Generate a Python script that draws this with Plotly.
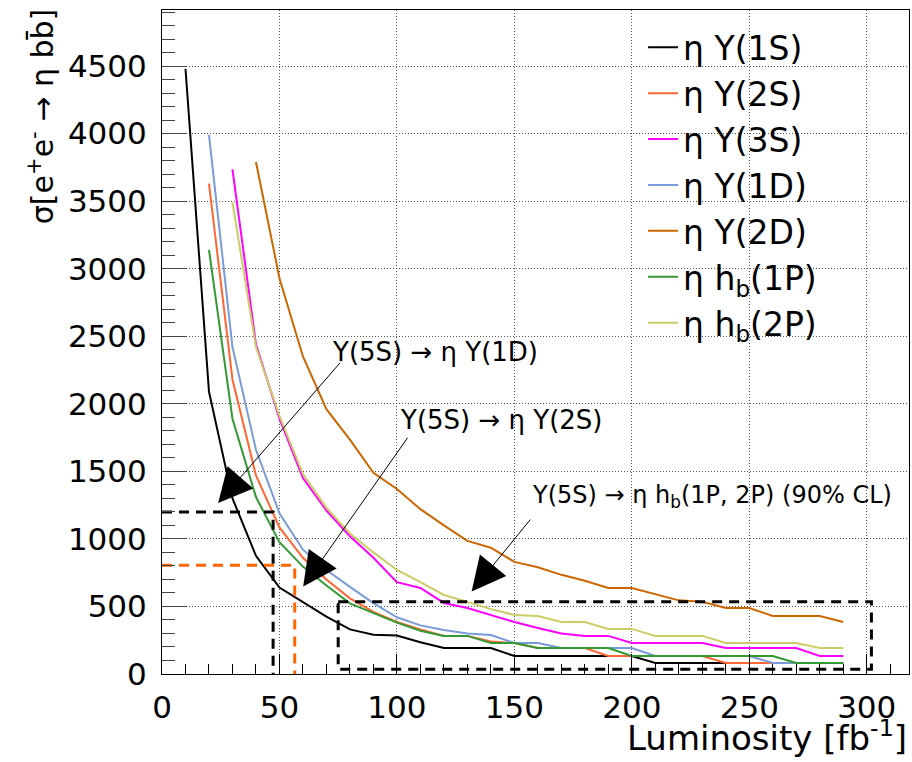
import plotly.graph_objects as go

FONT = "DejaVu Sans"

# ---------------- data ----------------
x_1S = [10, 20, 30, 40, 50, 60, 70, 80, 90, 100, 110, 120, 130, 140, 150,
        160, 170, 180, 190, 200, 210, 220, 230, 240, 250, 260, 270, 280, 290]
y_1S = [4480, 2090, 1300, 875, 640, 530, 425, 330, 290, 285, 235, 193, 193, 193, 133,
        133, 133, 133, 133, 133, 82, 82, 82, 82, 82, 82, 82, 82, 82]

x_from20 = [20, 30, 40, 50, 60, 70, 80, 90, 100, 110, 120, 130, 140, 150,
            160, 170, 180, 190, 200, 210, 220, 230, 240, 250, 260, 270, 280, 290]
y_2S = [3630, 2180, 1470, 1085, 860, 700, 560, 460, 385, 330, 282, 282, 240, 230,
        193, 193, 193, 133, 133, 133, 133, 133, 82, 82, 82, 82, 82, 82]
y_1D = [3990, 2420, 1660, 1190, 920, 770, 645, 525, 420, 360, 325, 300, 289, 230,
        230, 193, 193, 193, 193, 133, 133, 133, 133, 133, 82, 82, 82, 82]
y_1P = [3140, 1890, 1310, 975, 795, 655, 523, 450, 380, 320, 282, 282, 230, 230,
        193, 193, 193, 193, 133, 133, 133, 133, 133, 133, 133, 82, 82, 82]

x_from30 = [30, 40, 50, 60, 70, 80, 90, 100, 110, 120, 130, 140, 150,
            160, 170, 180, 190, 200, 210, 220, 230, 240, 250, 260, 270, 280, 290]
y_3S = [3735, 2440, 1890, 1450, 1210, 1020, 860, 680, 637, 526, 489, 437, 385,
        341, 300, 282, 282, 230, 230, 230, 230, 193, 193, 193, 193, 133, 133]
y_2P = [3490, 2420, 1910, 1480, 1230, 1040, 900, 770, 680, 585, 534, 480, 437,
        430, 385, 385, 334, 334, 282, 282, 282, 230, 230, 230, 230, 193, 193]

x_from40 = [40, 50, 60, 70, 80, 90, 100, 110, 120, 130, 140, 150,
            160, 170, 180, 190, 200, 210, 220, 230, 240, 250, 260, 270, 280, 290]
y_2D = [3790, 2930, 2350, 1960, 1735, 1490, 1370, 1220, 1100, 985, 935, 830,
        790, 734, 690, 637, 637, 590, 545, 534, 489, 489, 430, 430, 430, 385]

series_names = ["η Υ(1S)", "η Υ(2S)", "η Υ(3S)", "η Υ(1D)", "η Υ(2D)",
                "η h<sub>b</sub>(1P)", "η h<sub>b</sub>(2P)"]
series_x = [x_1S, x_from20, x_from30, x_from20, x_from40, x_from20, x_from30]
series_y = [y_1S, y_2S, y_3S, y_1D, y_2D, y_1P, y_2P]
series_colors = ["#000000", "#ff6633", "#ff00ff", "#7a9ad8", "#cc6600", "#339933", "#cccc66"]

# measured limits (dashed guides)
lim_1D_lumi, lim_1D_sigma = 47.3, 1200
lim_2S_lumi, lim_2S_sigma = 56.5, 805
box_hb_lumi = [75, 302]
box_hb_sigma = [35, 535]

# arrows and their labels
arrow_tail_x = [76.4, 105.0, 157.3]
arrow_tail_y = [2315, 1760, 1154]
arrow_tip_x = [23.9, 60.1, 131.8]
arrow_tip_y = [1265, 647, 610]
label_texts = ["Υ(5S) → η Υ(1D)", "Υ(5S) → η Υ(2S)",
               "Υ(5S) → η h<sub>b</sub>(1P, 2P) (90% CL)"]
label_x = [71.4, 100.4, 156.6]
label_y = [2387, 1883, 1312]
label_sizes = [26, 26, 24]

x_ticks = [0, 50, 100, 150, 200, 250, 300]
y_ticks = [0, 500, 1000, 1500, 2000, 2500, 3000, 3500, 4000, 4500]

# ---------------- figure ----------------
fig = go.Figure()

for name, xs, ys, col in zip(series_names, series_x, series_y, series_colors):
    fig.add_trace(go.Scatter(x=xs, y=ys, mode="lines", name=name,
                             line=dict(color=col, width=2)))

dash_pat = "10px,7px"
fig.add_trace(go.Scatter(x=[0, lim_1D_lumi, lim_1D_lumi], y=[lim_1D_sigma, lim_1D_sigma, 0],
                         mode="lines", showlegend=False, hoverinfo="skip",
                         line=dict(color="black", width=3, dash=dash_pat)))
fig.add_trace(go.Scatter(x=[0, lim_2S_lumi, lim_2S_lumi], y=[lim_2S_sigma, lim_2S_sigma, 0],
                         mode="lines", showlegend=False, hoverinfo="skip",
                         line=dict(color="#ff6600", width=3, dash=dash_pat)))
fig.add_trace(go.Scatter(x=[box_hb_lumi[0], box_hb_lumi[1], box_hb_lumi[1], box_hb_lumi[0], box_hb_lumi[0]],
                         y=[box_hb_sigma[1], box_hb_sigma[1], box_hb_sigma[0], box_hb_sigma[0], box_hb_sigma[1]],
                         mode="lines", showlegend=False, hoverinfo="skip",
                         line=dict(color="black", width=3, dash=dash_pat)))

annotations = []
for tx, ty, hx, hy in zip(arrow_tail_x, arrow_tail_y, arrow_tip_x, arrow_tip_y):
    annotations.append(dict(x=hx, y=hy, ax=tx, ay=ty, xref="x", yref="y", axref="x", ayref="y",
                            text="", showarrow=True, arrowhead=2, arrowsize=6.8, arrowwidth=1,
                            arrowcolor="black", standoff=0))
for t, lx, ly, fs in zip(label_texts, label_x, label_y, label_sizes):
    annotations.append(dict(x=lx, y=ly, xref="x", yref="y", text=t, showarrow=False,
                            xanchor="left", yanchor="middle",
                            font=dict(family=FONT, size=fs, color="black")))

# axis titles (ROOT style: aligned to the axis ends)
annotations.append(dict(x=1.0, y=-0.094, xref="paper", yref="paper",
                        text="Luminosity [fb<sup>-1</sup>]", showarrow=False,
                        xanchor="right", yanchor="middle",
                        font=dict(family=FONT, size=34, color="black")))
annotations.append(dict(x=-0.162, y=1.005, xref="paper", yref="paper",
                        text="σ[e<sup>+</sup>e<sup>-</sup> → η bb\u0304]", showarrow=False,
                        textangle=-90, xanchor="center", yanchor="top",
                        font=dict(family=FONT, size=30, color="black")))

fig.update_layout(
    width=912, height=762,
    margin=dict(l=162, r=3, t=10, b=88),
    paper_bgcolor="white", plot_bgcolor="white",
    font=dict(family=FONT, color="black"),
    showlegend=True,
    legend=dict(x=0.644, y=0.986, xanchor="left", yanchor="top",
                font=dict(family=FONT, size=33, color="black"),
                bgcolor="rgba(0,0,0,0)", borderwidth=0),
    annotations=annotations,
    xaxis=dict(range=[0, 318], tickmode="array", tickvals=x_ticks,
               ticks="inside", ticklen=20, tickcolor="black", tickwidth=1,
               minor=dict(tick0=0, dtick=10, ticks="inside", ticklen=10, tickcolor="black"),
               showgrid=True, gridcolor="#555555", griddash="1px,2px", gridwidth=1,
               showline=True, linecolor="black", linewidth=1, mirror=True,
               zeroline=False, tickfont=dict(family=FONT, size=31, color="black"),
               ticklabelstandoff=6),
    yaxis=dict(range=[0, 4915], tickmode="array", tickvals=y_ticks,
               ticks="inside", ticklen=25, tickcolor="#444444", tickwidth=1,
               minor=dict(tick0=0, dtick=100, ticks="inside", ticklen=13, tickcolor="#444444"),
               showgrid=True, gridcolor="#555555", griddash="1px,2px", gridwidth=1,
               showline=True, linecolor="black", linewidth=1, mirror=True,
               zeroline=False, tickfont=dict(family=FONT, size=31, color="black"),
               ticklabelstandoff=8),
)

fig.write_html("out.html")
